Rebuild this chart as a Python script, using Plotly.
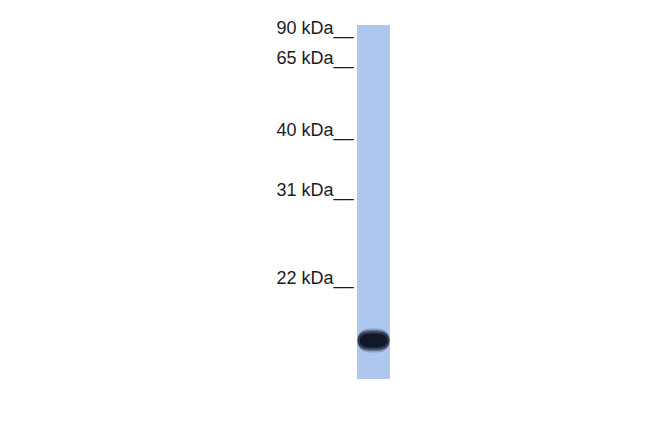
import plotly.graph_objects as go

# marker ladder (kDa) and where each one ran on the blot (px from top)
marker_kda = [90, 65, 40, 31, 22]
marker_y = [29, 59.5, 131, 191, 279]
marker_text = [f"{k} kDa__" for k in marker_kda]

# single band seen in the lane
band_y = 340.5
band_h = 18

lane_x0, lane_x1 = 357, 390
lane_top, lane_bottom = 25, 379

# the page body adds an 8px margin, so offset the ranges to keep pixel coords
off = 8


def rounded_rect(x0, x1, y0, y1, rx, ry):
    return (f"M {x0 + rx},{y0} L {x1 - rx},{y0} Q {x1},{y0} {x1},{y0 + ry} "
            f"L {x1},{y1 - ry} Q {x1},{y1} {x1 - rx},{y1} L {x0 + rx},{y1} "
            f"Q {x0},{y1} {x0},{y1 - ry} L {x0},{y0 + ry} Q {x0},{y0} {x0 + rx},{y0} Z")


fig = go.Figure()

fig.add_trace(go.Bar(
    x=[(lane_x0 + lane_x1) / 2], y=[lane_bottom - lane_top], base=[lane_top],
    width=lane_x1 - lane_x0, marker=dict(color="#aec7ee", line=dict(width=0)),
    hoverinfo="skip",
))

fig.add_trace(go.Scatter(
    x=[353.5] * len(marker_y), y=marker_y, text=marker_text,
    mode="text", textposition="middle left",
    textfont=dict(family="Liberation Sans, Arial", size=18, color="#1c1c1c"),
    hoverinfo="skip",
))

# band drawn as stacked translucent layers for a soft edge
for grow, alpha in [(3, 0.2), (1.5, 0.35), (0, 0.55), (-2, 0.85)]:
    fig.add_shape(
        type="path",
        path=rounded_rect(lane_x0 - min(grow, 0) + 0.5, lane_x1 + min(grow, 0) - 0.5,
                          band_y - band_h / 2 - grow, band_y + band_h / 2 + grow,
                          13, band_h / 2 + grow),
        fillcolor="#0b1222", opacity=alpha, line=dict(width=0), layer="above",
    )

fig.update_layout(
    width=650, height=433, margin=dict(l=0, r=0, t=0, b=0),
    paper_bgcolor="white", plot_bgcolor="white", showlegend=False,
    xaxis=dict(range=[off, 650 + off], visible=False, fixedrange=True),
    yaxis=dict(range=[433 + off, off], visible=False, fixedrange=True),
    bargap=0,
)

fig.write_html("out.html")
